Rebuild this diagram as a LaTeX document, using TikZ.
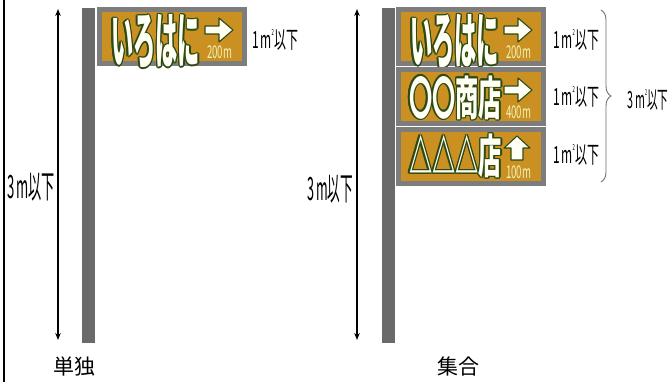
\documentclass[tikz,border=0pt]{standalone}
\usepackage{fontspec}
\newfontfamily\jp{Noto Sans CJK JP}
\usetikzlibrary{arrows.meta,decorations.pathreplacing,calc}
\definecolor{polec}{HTML}{6A6A6A}
\definecolor{framec}{HTML}{7D7D7D}
\definecolor{orangec}{HTML}{CB9022}
\definecolor{outc}{HTML}{2D4A12}
\definecolor{signw}{HTML}{FFFFF4}
\definecolor{distc}{HTML}{EEF4B8}
\definecolor{bracec}{HTML}{707070}
\tikzset{
  dim/.style={line width=1.2pt,{Stealth[length=7pt,width=5.5pt]}-{Stealth[length=7pt,width=5.5pt]}},
  lbl/.style={inner sep=0pt,font=\jp},
  polebar/.style={fill=polec,draw=none},
  frameb/.style={fill=framec,draw=none,inner sep=0pt,minimum width=150pt,minimum height=59pt,anchor=north west},
  innerb/.style={fill=orangec,draw=none,inner sep=0pt,minimum width=140pt,minimum height=49pt,anchor=north west},
  arrowshape/.style={fill=signw,draw=outc,line width=1.1pt,line join=round},
  disttext/.style={inner sep=0pt,text=distc,font=\jp},
}
\newcommand\smtext[3]{\resizebox*{#1}{#2}{\jp #3}}
\newcommand\outlined[5]{%
  \foreach \ang in {0,30,...,330}{\node[inner sep=0pt,text=outc] at ($(#2)+(\ang:1.3)$) {\resizebox*{#3}{#4}{\jp\bfseries #5}};}
  \node[inner sep=0pt,text=signw] (#1) at (#2) {\resizebox*{#3}{#4}{\jp\bfseries #5}};
}
\newcommand\rightarrowshape{\draw[arrowshape] (108,19) -- (122,19) -- (122,11) -- (136,23) -- (122,35) -- (122,27) -- (108,27) -- cycle;}
\newcommand\uparrowshape{\draw[arrowshape] (121,9) -- (134,21) -- (127,21) -- (127,33) -- (115,33) -- (115,21) -- (108,21) -- cycle;}
% #1 name, #2 x, #3 y, #4 text pos, #5 w, #6 h, #7 text, #8 arrow macro, #9 distance
\newcommand\signboard[9]{%
  \begin{scope}[shift={(#2,#3)}]
    \node[frameb] (#1) at (0,0) {};
    \node[innerb] (#1in) at (5,5) {};
    \outlined{#1t}{#4}{#5}{#6}{#7}
    #8
    \node[disttext] (#1d) at (122.5,45.5) {\resizebox*{25pt}{13pt}{\jp #9}};
  \end{scope}
}
\newcommand\sqm{1\,m\raisebox{0.55em}{\scalebox{0.35}{2}}以下}
\begin{document}
\begin{tikzpicture}[x=1pt,y=-1pt]
\useasboundingbox (0,0) rectangle (669,382);
\fill[white] (0,0) rectangle (669,382);
% left border
\coordinate (bt) at (3.8,0);
\coordinate (bb) at (3.8,382);
\draw[line width=2.4pt] (bt) -- (bb);

% ===== single =====
\coordinate (lat) at (58,9);
\coordinate (lab) at (58,340);
\draw[dim] (lat) -- (lab);
\node[lbl] (lh) at (31,187) {\smtext{48pt}{28pt}{3\,m以下}};
\fill[polebar] (82,8) rectangle (95,343);
\signboard{ls}{97}{7}{58.5,35}{89pt}{55pt}{いろはに}{\rightarrowshape}{200m}
\node[lbl] (la) at (275,40) {\smtext{46pt}{21pt}{\sqm}};
\node[lbl,font=\jp\fontsize{21pt}{21pt}\selectfont] (lt) at (74,367) {単独};

% ===== group =====
\coordinate (rat) at (357,9);
\coordinate (rab) at (357,340);
\draw[dim] (rat) -- (rab);
\node[lbl] (rh) at (330,189) {\smtext{46pt}{28pt}{3\,m以下}};
\fill[polebar] (382,8) rectangle (395,343);
\signboard{s1}{396}{7}{58.5,35}{89pt}{55pt}{いろはに}{\rightarrowshape}{200m}
\signboard{s2}{396}{67}{59.5,30.5}{93pt}{44pt}{〇〇商店}{\rightarrowshape}{400m}
\signboard{s3}{396}{127}{59.5,29}{93pt}{44pt}{△△△店}{\uparrowshape}{100m}
\node[lbl] (ra1) at (576,40) {\smtext{46pt}{21pt}{\sqm}};
\node[lbl] (ra2) at (576,97) {\smtext{46pt}{21pt}{\sqm}};
\node[lbl] (ra3) at (576,155) {\smtext{46pt}{21pt}{\sqm}};
\coordinate (brt) at (601,10);
\coordinate (brb) at (601,182);
\draw[bracec,line width=0.9pt,decorate,decoration={brace,amplitude=10pt}] (brt) -- (brb);
\node[lbl] (rtot) at (648,100) {\smtext{41pt}{21pt}{3\,m\raisebox{0.55em}{\scalebox{0.35}{2}}以下}};
\node[lbl,font=\jp\fontsize{21pt}{21pt}\selectfont] (rt) at (458,367) {集合};
\end{tikzpicture}
\end{document}
